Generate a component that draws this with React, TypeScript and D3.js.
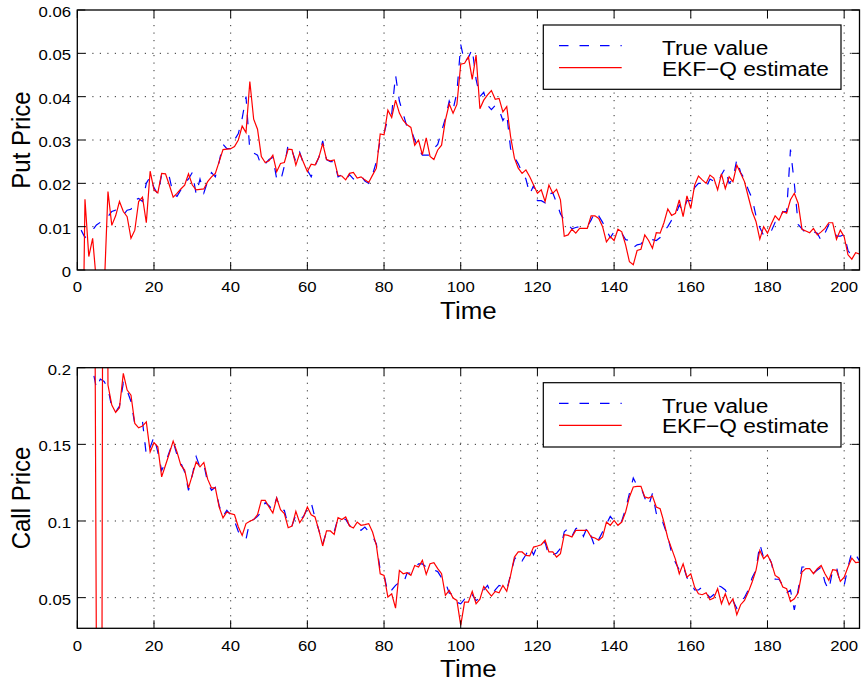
import React from "react";
import * as d3 from "d3";

// ---- data (time = 1..204) ----
const putTrue = [0.0092,0.0075,0.0082,0.0092,0.0104,0.011,0.0114,0.0123,0.0135,0.0138,0.0135,0.0127,0.0138,0.014,0.0162,0.0165,0.0158,0.02,0.0215,0.019,
0.0175,0.022,0.0225,0.0215,0.0175,0.017,0.0185,0.02,0.021,0.0225,0.0175,0.021,0.0178,0.0205,0.0225,0.0215,0.025,0.029,0.028,0.028,
0.03,0.0315,0.035,0.04,0.0275,0.027,0.0265,0.024,0.0245,0.0255,0.026,0.021,0.0205,0.024,0.029,0.0275,0.025,0.0272,0.0245,0.023,
0.0215,0.024,0.026,0.0298,0.0255,0.025,0.025,0.0215,0.022,0.0208,0.022,0.021,0.0218,0.0218,0.0205,0.02,0.022,0.025,0.03,0.0315,
0.035,0.036,0.045,0.039,0.036,0.033,0.0325,0.03,0.028,0.0265,0.0265,0.0265,0.028,0.029,0.032,0.035,0.039,0.037,0.041,0.052,
0.048,0.049,0.051,0.044,0.04,0.041,0.038,0.037,0.038,0.037,0.0345,0.036,0.028,0.026,0.0245,0.0225,0.021,0.0175,0.0195,0.016,
0.016,0.0155,0.0175,0.0178,0.0155,0.013,0.0115,0.0105,0.0095,0.0098,0.01,0.01,0.01,0.0115,0.0135,0.0125,0.011,0.0092,0.0075,0.0088,
0.0092,0.0085,0.007,0.0068,0.0052,0.0058,0.006,0.007,0.0072,0.007,0.0068,0.0075,0.009,0.01,0.0115,0.0125,0.015,0.0135,0.016,0.016,
0.019,0.02,0.02,0.019,0.021,0.0205,0.02,0.022,0.0235,0.02,0.021,0.0255,0.0225,0.021,0.0185,0.0165,0.0125,0.0098,0.008,0.008,
0.009,0.011,0.0115,0.0135,0.0135,0.0278,0.02,0.0105,0.0095,0.0085,0.0085,0.0088,0.0085,0.0068,0.0085,0.0105,0.0095,0.0078,0.0078,0.0082,
0.0045,0.0032,0.0035,0.0038];

const putEst = [-0.05,0.0163,0.0031,0.0073,-0.003,-0.01,-0.005,0.0181,0.0103,0.0125,0.0158,0.0135,0.0123,0.0073,0.0092,0.0158,0.0168,0.0109,0.0228,0.0185,
0.0178,0.0223,0.0222,0.0196,0.0168,0.0177,0.0187,0.0196,0.0222,0.0196,0.0185,0.0186,0.0187,0.0204,0.0215,0.0223,0.025,0.0278,0.0279,0.028,
0.0285,0.03,0.0332,0.0317,0.0435,0.0348,0.0325,0.0262,0.0248,0.0252,0.0265,0.0227,0.0246,0.0248,0.0279,0.0278,0.0242,0.0269,0.0248,0.0227,
0.0244,0.0242,0.026,0.0292,0.0255,0.0252,0.0254,0.0218,0.0217,0.0208,0.0223,0.0225,0.0212,0.0215,0.0208,0.0202,0.0219,0.0235,0.0314,0.0312,
0.0369,0.0352,0.0392,0.0362,0.0345,0.0335,0.0329,0.0288,0.03,0.0266,0.0305,0.0262,0.0255,0.0277,0.0288,0.0346,0.0383,0.0362,0.0382,0.0475,
0.0477,0.0492,0.044,0.0496,0.0372,0.0392,0.0404,0.0414,0.0394,0.0396,0.0365,0.0377,0.0308,0.0258,0.0235,0.0223,0.0231,0.0215,0.0196,0.0177,
0.0185,0.0158,0.0196,0.0177,0.0186,0.0162,0.0078,0.0081,0.0094,0.0085,0.0096,0.0096,0.0096,0.0125,0.0125,0.0119,0.01,0.0065,0.0077,0.0068,
0.0094,0.0088,0.0058,0.0019,0.0012,0.0045,0.0048,0.0081,0.0068,0.005,0.0086,0.0085,0.0109,0.0141,0.0126,0.0131,0.0162,0.0123,0.0171,0.0142,
0.0196,0.0217,0.0208,0.02,0.0219,0.0212,0.0185,0.0222,0.0188,0.0215,0.0204,0.0242,0.0223,0.0204,0.0169,0.0135,0.0112,0.0071,0.01,0.0085,
0.0106,0.0125,0.0115,0.0135,0.0131,0.0162,0.0177,0.0154,0.0094,0.009,0.0086,0.0096,0.0081,0.0088,0.0096,0.0109,0.0109,0.0071,0.0092,0.0077,
0.0035,0.0025,0.004,0.0037];

const callTrue = [0.21,0.215,0.208,0.199,0.1865,0.1926,0.191,0.1865,0.174,0.171,0.175,0.19,0.185,0.178,0.163,0.164,0.165,0.143,0.148,0.155,
0.145,0.133,0.138,0.145,0.152,0.143,0.138,0.132,0.12,0.13,0.142,0.135,0.137,0.125,0.12,0.122,0.11,0.103,0.107,0.104,
0.1,0.093,0.091,0.088,0.1,0.101,0.103,0.106,0.112,0.11,0.107,0.115,0.107,0.107,0.097,0.097,0.104,0.101,0.103,0.108,
0.112,0.102,0.094,0.085,0.093,0.093,0.093,0.102,0.101,0.101,0.097,0.097,0.095,0.094,0.096,0.093,0.09,0.085,0.068,0.065,
0.053,0.055,0.058,0.06,0.059,0.066,0.066,0.069,0.072,0.072,0.07,0.07,0.068,0.067,0.063,0.06,0.053,0.052,0.047,0.046,
0.049,0.048,0.052,0.048,0.05,0.055,0.058,0.052,0.055,0.058,0.057,0.055,0.065,0.075,0.078,0.074,0.078,0.083,0.078,0.084,
0.085,0.086,0.077,0.078,0.079,0.082,0.093,0.095,0.09,0.095,0.096,0.09,0.096,0.09,0.083,0.088,0.093,0.098,0.103,0.1,
0.098,0.1,0.108,0.118,0.128,0.123,0.122,0.115,0.11,0.118,0.105,0.104,0.097,0.09,0.079,0.073,0.068,0.071,0.063,0.06,
0.055,0.055,0.057,0.053,0.05,0.052,0.058,0.057,0.055,0.05,0.048,0.043,0.048,0.05,0.055,0.063,0.068,0.085,0.076,0.078,
0.073,0.062,0.062,0.058,0.053,0.055,0.042,0.055,0.07,0.07,0.068,0.066,0.068,0.07,0.06,0.055,0.068,0.07,0.059,0.058,
0.07,0.08,0.078,0.074];

const callEst = [0.3,0.35,0.4,0.6,0.0,-0.6,0.8,0.1887,0.1756,0.1708,0.1739,0.1963,0.1854,0.1821,0.1636,0.1608,0.1619,0.1647,0.1451,0.1512,
0.1484,0.1288,0.1364,0.144,0.1521,0.1451,0.1364,0.1332,0.1216,0.1299,0.1386,0.1353,0.1382,0.1273,0.1216,0.1216,0.1091,0.102,0.1059,0.1048,
0.1041,0.0961,0.0906,0.0983,0.0998,0.1009,0.1041,0.1135,0.1135,0.1091,0.1052,0.115,0.1074,0.1048,0.0956,0.0967,0.1063,0.0989,0.1026,0.1091,
0.1041,0.1026,0.0939,0.0837,0.0935,0.0935,0.0913,0.1022,0.1009,0.1026,0.0967,0.0954,0.0993,0.0972,0.0976,0.0983,0.0928,0.0841,0.0656,0.0645,
0.0504,0.0525,0.0432,0.0678,0.0656,0.0663,0.0645,0.071,0.07,0.0743,0.0652,0.0721,0.0728,0.0689,0.0656,0.0515,0.0547,0.0497,0.0482,0.0319,
0.0471,0.0471,0.0541,0.046,0.049,0.0573,0.0541,0.051,0.0541,0.0532,0.058,0.0541,0.0645,0.0765,0.0798,0.0798,0.0776,0.0772,0.083,0.0837,
0.0845,0.0874,0.0798,0.0798,0.0765,0.0787,0.0911,0.0906,0.0896,0.0939,0.0939,0.0939,0.0939,0.0896,0.0889,0.0874,0.0896,0.0993,0.0972,0.1004,
0.0972,0.0993,0.1059,0.1157,0.1222,0.1226,0.1226,0.1157,0.115,0.1163,0.1091,0.108,0.0993,0.0889,0.082,0.075,0.0656,0.0721,0.0634,0.0656,
0.0569,0.0525,0.0519,0.0532,0.0486,0.0497,0.0558,0.046,0.0525,0.0454,0.0493,0.0388,0.0454,0.0482,0.0536,0.0602,0.0678,0.0808,0.0754,0.078,
0.0728,0.0645,0.0628,0.0569,0.0558,0.0475,0.0493,0.0532,0.0667,0.0689,0.0689,0.0656,0.0689,0.071,0.0656,0.0613,0.0682,0.0678,0.0606,0.0634,
0.07,0.0758,0.0728,0.0732];

const xTicks = [0, 20, 40, 60, 80, 100, 120, 140, 160, 180, 200];
const putTicks = [0, 0.01, 0.02, 0.03, 0.04, 0.05, 0.06];
const putTickLabels = ["0", "0.01", "0.02", "0.03", "0.04", "0.05", "0.06"];
const callTicks = [0.05, 0.1, 0.15, 0.2];
const callTickLabels = ["0.05", "0.1", "0.15", "0.2"];
const legendLabels = ["True value", "EKF\u2212Q estimate"];

const FONT = "'Liberation Sans', Arial, Helvetica, sans-serif";
const SX = 1.08;

function Txt({ x, y, size, anchor = "start", rotate = false, children }: any) {
  const tr = rotate
    ? `translate(${x},${y}) rotate(-90) scale(1,${SX})`
    : `translate(${x},${y}) scale(${SX},1)`;
  return (
    <text transform={tr} fontFamily={FONT} fontSize={size} textAnchor={anchor} fill="#000">
      {children}
    </text>
  );
}

function Panel({ id, top, bottom, yDomain, yTicks, yTickLabels, yLabel, trueVals, estVals }: any) {
  const left = 77.3, right = 859.5;
  const x = d3.scaleLinear().domain([0, 204]).range([left, right]);
  const y = d3.scaleLinear().domain(yDomain).range([bottom, top]);
  const line = d3.line<number>().x((_, i) => x(i + 1)).y((d) => y(d));
  const tl = 8;
  const lgTop = top + 15;
  return (
    <g>
      <defs>
        <clipPath id={id}>
          <rect x={left} y={top} width={right - left} height={bottom - top} />
        </clipPath>
      </defs>
      <rect x={left} y={top} width={right - left} height={bottom - top} fill="#fff" />
      {/* grid */}
      {xTicks.filter((t) => t > 0).map((t) => (
        <line key={"gx" + t} x1={x(t)} x2={x(t)} y1={top} y2={bottom} stroke="#333" strokeWidth={1} strokeDasharray="1.2,6.3" />
      ))}
      {yTicks.filter((t: number) => y(t) > top + 0.5 && y(t) < bottom - 0.5).map((t: number) => (
        <line key={"gy" + t} x1={left} x2={right} y1={y(t)} y2={y(t)} stroke="#333" strokeWidth={1} strokeDasharray="1.2,6.3" />
      ))}
      {/* data */}
      <g clipPath={`url(#${id})`}>
        <path d={line(trueVals) || ""} fill="none" stroke="#0000ff" strokeWidth={1.2} strokeDasharray="9.5,11" />
        <path d={line(estVals) || ""} fill="none" stroke="#ff0000" strokeWidth={1.2} />
      </g>
      {/* frame */}
      <rect x={left} y={top} width={right - left} height={bottom - top} fill="none" stroke="#000" strokeWidth={1.3} />
      {xTicks.map((t) => (
        <g key={"tx" + t}>
          <line x1={x(t)} x2={x(t)} y1={bottom} y2={bottom - tl} stroke="#000" strokeWidth={1} />
          <line x1={x(t)} x2={x(t)} y1={top} y2={top + tl} stroke="#000" strokeWidth={1} />
          <Txt x={x(t)} y={bottom + 22.3} size={15.5} anchor="middle">{String(t)}</Txt>
        </g>
      ))}
      {yTicks.map((t: number, i: number) => (
        <g key={"ty" + t}>
          <line x1={left} x2={left + tl} y1={y(t)} y2={y(t)} stroke="#000" strokeWidth={1} />
          <line x1={right} x2={right - tl} y1={y(t)} y2={y(t)} stroke="#000" strokeWidth={1} />
          <Txt x={71} y={y(t) + 7} size={15.5} anchor="end">{yTickLabels[i]}</Txt>
        </g>
      ))}
      <Txt x={(left + right) / 2} y={bottom + 49} size={24} anchor="middle">Time</Txt>
      <Txt x={30} y={(top + bottom) / 2} size={24} anchor="middle" rotate>{yLabel}</Txt>
      {/* legend */}
      <rect x={543.3} y={lgTop} width={297.7} height={64.3} fill="#fff" stroke="#000" strokeWidth={1.2} />
      <line x1={559} x2={621.7} y1={lgTop + 20.7} y2={lgTop + 20.7} stroke="#0000ff" strokeWidth={1.2} strokeDasharray="9.5,11" />
      <line x1={559} x2={621.7} y1={lgTop + 42.7} y2={lgTop + 42.7} stroke="#ff0000" strokeWidth={1.2} />
      <Txt x={662} y={lgTop + 30} size={21}>{legendLabels[0]}</Txt>
      <Txt x={662} y={lgTop + 50.7} size={21}>{legendLabels[1]}</Txt>
    </g>
  );
}

export default function App() {
  return (
    <svg width={861} height={682} style={{ position: "absolute", left: 0, top: 0, background: "#fff" }}>
      <rect x={0} y={0} width={861} height={682} fill="#fff" />
      <Panel id="clipPut" top={10} bottom={270} yDomain={[0, 0.06]} yTicks={putTicks} yTickLabels={putTickLabels}
        yLabel="Put Price" trueVals={putTrue} estVals={putEst} />
      <Panel id="clipCall" top={367.7} bottom={628.3} yDomain={[0.03, 0.2]} yTicks={callTicks} yTickLabels={callTickLabels}
        yLabel="Call Price" trueVals={callTrue} estVals={callEst} />
    </svg>
  );
}
